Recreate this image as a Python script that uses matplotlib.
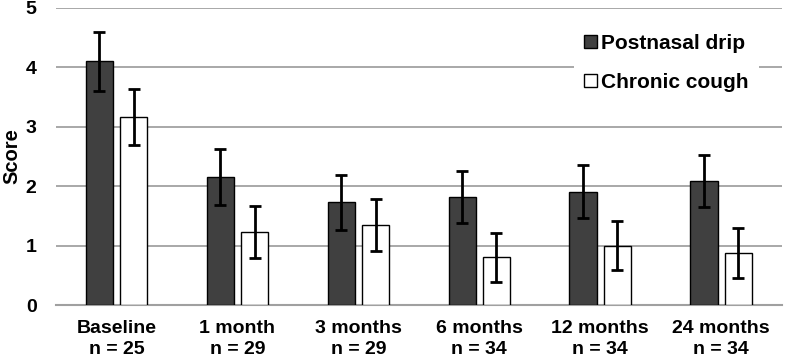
import matplotlib
matplotlib.use("Agg")
import matplotlib.pyplot as plt
import numpy as np

plt.rcParams['font.family'] = ['Liberation Sans', 'DejaVu Sans']
plt.rcParams['font.weight'] = 'bold'

categories = ["Baseline\nn = 25", "1 month\nn = 29", "3 months\nn = 29",
              "6 months\nn = 34", "12 months\nn = 34", "24 months\nn = 34"]
postnasal = [4.10, 2.16, 1.73, 1.82, 1.91, 2.09]
postnasal_err = [0.50, 0.47, 0.46, 0.44, 0.45, 0.44]
cough = [3.17, 1.23, 1.35, 0.80, 1.00, 0.88]
cough_err = [0.47, 0.44, 0.44, 0.42, 0.41, 0.42]

fig = plt.figure(figsize=(7.88, 3.58), dpi=100)
ax = fig.add_axes([0.071, 0.148, 0.921, 0.830])

x = np.arange(len(categories))
w = 0.225
off = 0.142
ekw = dict(elinewidth=2, capsize=4, capthick=2, ecolor='black')
ax.bar(x - off, postnasal, w, yerr=postnasal_err, color='#404040', edgecolor='black',
       linewidth=1, error_kw=ekw, label='Postnasal drip', zorder=3)
ax.bar(x + off, cough, w, yerr=cough_err, color='white', edgecolor='black',
       linewidth=1, error_kw=ekw, label='Chronic cough', zorder=3)

ax.set_ylim(0, 5)
ax.set_xlim(-0.5, 5.5)
ax.set_yticks([0, 1, 2, 3, 4, 5])
ax.set_xticks(x)
ax.set_xticklabels(categories, fontsize=14, fontweight='bold', linespacing=1.25)
ax.tick_params(axis='y', labelsize=14, length=0, pad=14)
ax.tick_params(axis='x', length=0, pad=11)
for s in ['top', 'right', 'left']:
    ax.spines[s].set_visible(False)
ax.spines['bottom'].set_color('#a0a0a0')
ax.spines['bottom'].set_linewidth(1.5)
ax.yaxis.grid(True, color='#a8a8a8', linewidth=1.4, zorder=0)
ax.set_axisbelow(True)
ax.set_ylabel('Score', fontsize=14.5, fontweight='bold')
ax.yaxis.set_label_coords(-0.047, 0.5)

leg = ax.legend(loc='upper left', bbox_to_anchor=(0.699, 0.982), frameon=True,
                fontsize=15, handlelength=0.6, handleheight=0.6, handletextpad=0.2,
                labelspacing=0.95, borderpad=0.5)
leg.get_frame().set_edgecolor('none')
leg.get_frame().set_facecolor('white')
leg.get_frame().set_alpha(1)
leg.set_zorder(5)
for t in leg.get_texts():
    t.set_fontweight('bold')

fig.savefig('out.png', dpi=100)
